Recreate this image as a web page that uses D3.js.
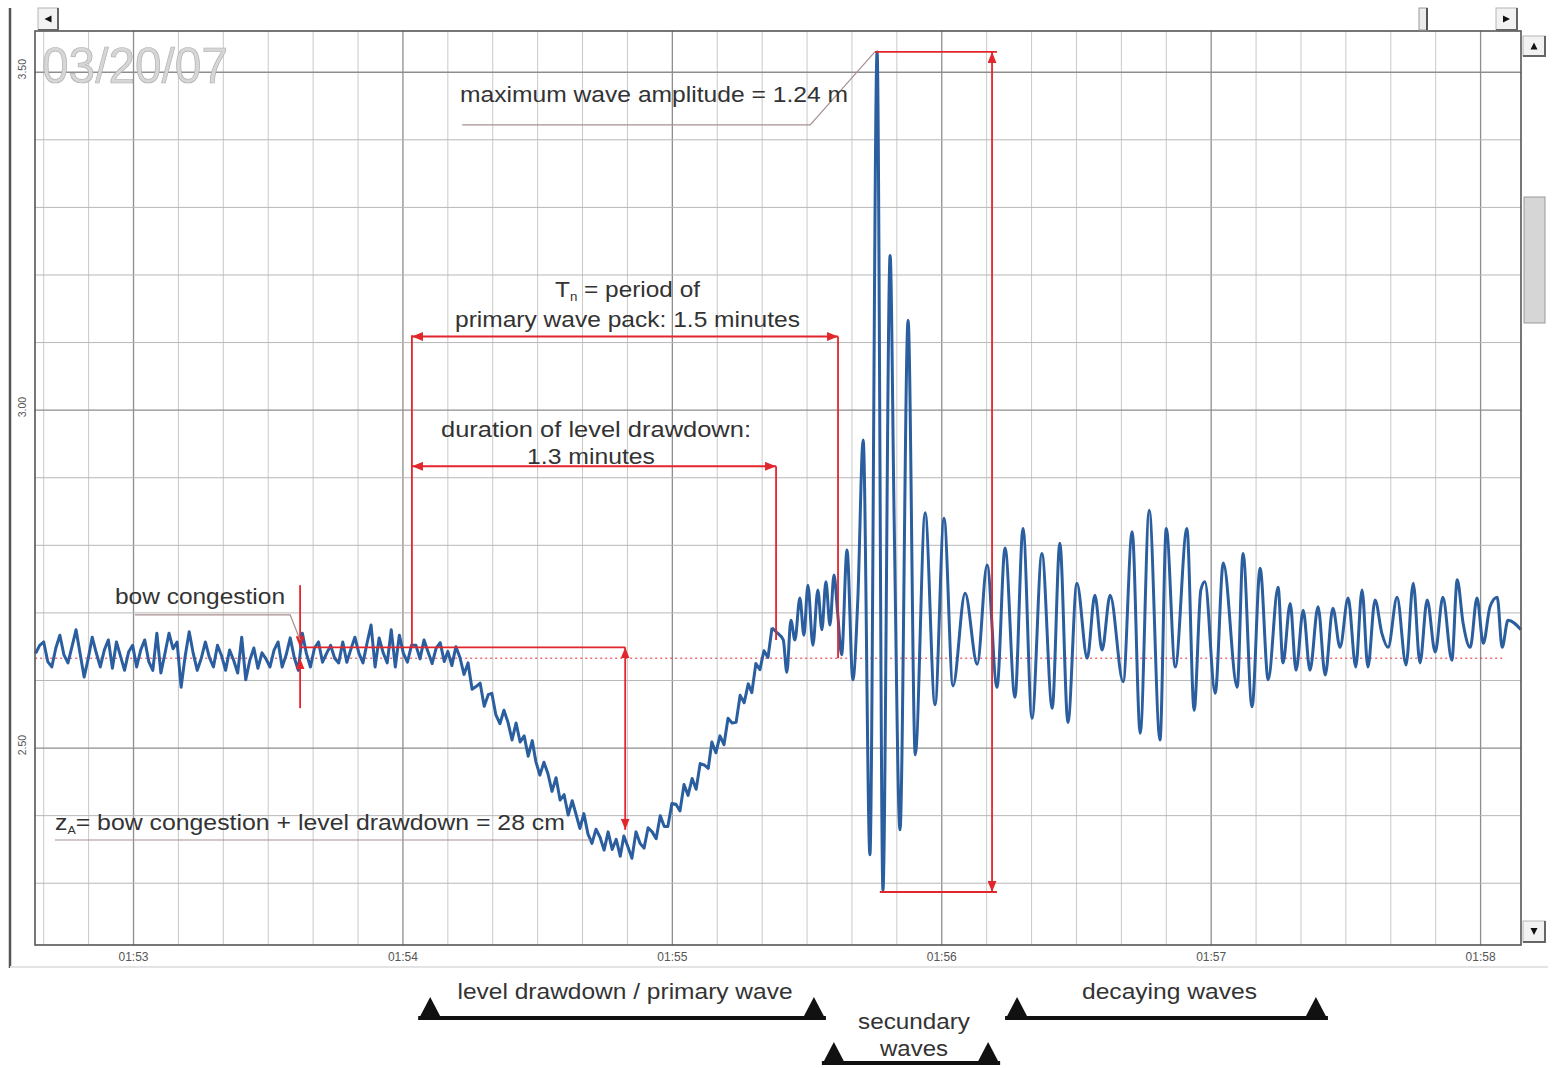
<!DOCTYPE html>
<html>
<head>
<meta charset="utf-8">
<script src="https://cdn.jsdelivr.net/npm/d3@7"></script>
<style>
  body { margin: 0; background: #fff; }
  svg { display: block; }
  text { font-family: "Liberation Sans", Arial, sans-serif; }
</style>
</head>
<body>
<svg id="chart" width="1556" height="1068"></svg>
<script>
// water level record: [seconds after 01:52:00, level in m]

// calm phase before the ship arrives
var calm = [[38.2, 2.640], [39.1, 2.652], [40.0, 2.657], [40.9, 2.628], [41.8, 2.620], [42.7, 2.648], [43.6, 2.667], [44.5, 2.638],
  [45.4, 2.626], [46.3, 2.650], [47.2, 2.675], [48.1, 2.640], [49.0, 2.605], [49.9, 2.632], [50.8, 2.664], [51.7, 2.641],
  [52.6, 2.620], [53.5, 2.645], [54.4, 2.660], [55.3, 2.618], [56.2, 2.657], [57.1, 2.636], [58.0, 2.615], [58.9, 2.642],
  [59.8, 2.652], [60.7, 2.620], [61.6, 2.645], [62.5, 2.660], [63.4, 2.628], [64.3, 2.615], [65.2, 2.670], [66.1, 2.611],
  [67.0, 2.640], [67.9, 2.670], [68.8, 2.647], [69.7, 2.657], [70.6, 2.590], [71.5, 2.636], [72.4, 2.672], [73.3, 2.640],
  [74.2, 2.615], [75.1, 2.633], [76.0, 2.657], [76.9, 2.634], [77.8, 2.620], [78.7, 2.652], [79.6, 2.637], [80.5, 2.615],
  [81.4, 2.645], [82.3, 2.630], [83.2, 2.611], [84.1, 2.664], [85.0, 2.601], [85.9, 2.630], [86.8, 2.648], [87.7, 2.618],
  [88.6, 2.641], [89.5, 2.632], [90.4, 2.620], [91.3, 2.645], [92.2, 2.657], [93.1, 2.620], [94.0, 2.638], [94.9, 2.663],
  [95.8, 2.634], [96.7, 2.615], [97.6, 2.670], [98.5, 2.640], [99.4, 2.620], [100.3, 2.648], [101.2, 2.657], [102.1, 2.627],
  [103.0, 2.640], [103.9, 2.652], [104.8, 2.633], [105.7, 2.626], [106.6, 2.657], [107.5, 2.627], [108.4, 2.646], [109.3, 2.664],
  [110.2, 2.640], [111.1, 2.626], [112.0, 2.655], [112.9, 2.682], [113.8, 2.620], [114.7, 2.663], [115.6, 2.641], [116.5, 2.626],
  [117.4, 2.675], [118.3, 2.620], [119.2, 2.667], [120.1, 2.640], [121.0, 2.627], [121.9, 2.652]];

// level drawdown / primary wave
var drawdown = [[122.9, 2.652], [123.8, 2.632], [124.7, 2.660], [125.6, 2.642], [126.5, 2.625], [127.4, 2.648], [128.3, 2.656],
  [129.2, 2.628], [130.0, 2.643], [130.9, 2.622], [131.8, 2.650], [132.7, 2.634], [133.6, 2.609], [134.5, 2.626], [135.4, 2.587],
  [136.3, 2.591], [137.2, 2.596], [138.1, 2.562], [139.0, 2.579], [139.8, 2.581], [140.7, 2.549], [141.6, 2.536], [142.5, 2.556],
  [143.4, 2.538], [144.3, 2.512], [145.2, 2.537], [146.1, 2.509], [147.0, 2.518], [147.9, 2.488], [148.8, 2.511], [149.6, 2.480],
  [150.5, 2.460], [151.4, 2.479], [152.3, 2.462], [153.2, 2.436], [154.1, 2.456], [155.0, 2.423], [155.9, 2.431], [156.8, 2.401],
  [157.7, 2.422], [158.6, 2.401], [159.4, 2.381], [160.3, 2.403], [161.2, 2.373], [162.1, 2.359], [163.0, 2.380], [163.9, 2.368],
  [164.8, 2.349], [165.7, 2.376], [166.6, 2.350], [167.5, 2.365], [168.4, 2.340], [169.2, 2.370], [170.1, 2.354], [171.0, 2.337],
  [171.9, 2.376], [172.8, 2.359], [173.7, 2.352], [174.6, 2.382], [175.5, 2.376], [176.4, 2.366], [177.3, 2.400], [178.2, 2.384],
  [179.0, 2.384], [179.9, 2.418], [180.8, 2.417], [181.7, 2.407], [182.6, 2.446], [183.5, 2.430], [184.4, 2.455], [185.3, 2.439],
  [186.2, 2.477], [187.1, 2.475], [188.0, 2.470], [188.8, 2.509], [189.7, 2.493], [190.6, 2.518], [191.5, 2.505], [192.4, 2.544],
  [193.3, 2.537], [194.2, 2.538], [195.1, 2.578], [196.0, 2.567], [196.9, 2.595], [197.7, 2.582], [198.6, 2.625], [199.5, 2.616],
  [200.4, 2.644], [201.3, 2.634], [202.2, 2.678]];

// secondary waves
var secondary = [[203.1, 2.672], [204.7, 2.660], [205.5, 2.612], [206.4, 2.689], [207.3, 2.660], [208.4, 2.722], [209.3, 2.667],
  [210.2, 2.741], [211.3, 2.652], [212.4, 2.734], [213.3, 2.675], [214.2, 2.746], [215.1, 2.682], [216.0, 2.756], [216.8, 2.701],
  [217.7, 2.638], [218.9, 2.793], [220.2, 2.601], [221.3, 2.719], [222.5, 2.956], [224.0, 2.342], [225.6, 3.530], [226.9, 2.290],
  [228.5, 3.229], [229.4, 2.837], [230.7, 2.379], [232.5, 3.133], [234.1, 2.490], [236.3, 2.848], [238.5, 2.564], [240.5, 2.840],
  [242.5, 2.592], [245.2, 2.729], [247.9, 2.624], [250.1, 2.771]];

// decaying waves
var decaying = [[252.3, 2.590], [254.1, 2.796], [256.3, 2.575], [258.1, 2.825], [260.1, 2.544], [262.3, 2.788], [264.6, 2.559],
  [266.3, 2.803], [268.1, 2.538], [270.1, 2.744], [272.4, 2.633], [274.1, 2.726], [275.7, 2.645], [277.5, 2.726], [280.4, 2.598],
  [282.4, 2.820], [284.2, 2.522], [286.2, 2.852], [288.6, 2.512], [290.0, 2.825], [292.0, 2.620], [294.6, 2.825], [296.2, 2.556],
  [297.7, 2.734], [298.6, 2.746], [300.9, 2.581], [302.7, 2.774], [305.8, 2.590], [307.1, 2.788], [309.1, 2.561], [310.9, 2.766],
  [312.7, 2.601], [314.9, 2.738], [316.0, 2.626], [317.6, 2.714], [318.9, 2.615], [320.5, 2.704], [322.0, 2.615], [323.8, 2.709],
  [325.4, 2.608], [327.1, 2.707], [328.7, 2.649], [330.5, 2.722], [332.2, 2.620], [333.6, 2.734], [334.9, 2.620], [336.5, 2.719],
  [338.0, 2.670], [339.4, 2.649], [341.4, 2.723], [343.4, 2.623], [345.0, 2.744], [346.5, 2.626], [348.1, 2.719], [349.9, 2.642],
  [351.6, 2.723], [353.6, 2.630], [354.8, 2.749], [356.1, 2.685], [357.7, 2.649], [359.2, 2.722], [360.6, 2.655], [362.1, 2.709],
  [363.7, 2.723], [364.8, 2.649], [366.1, 2.689], [369.0, 2.675]];

// axis ticks
var xTickValues = [60, 120, 180, 240, 300, 360];
var xTickLabels = ["01:53", "01:54", "01:55", "01:56", "01:57", "01:58"];
var yTickValues = [2.5, 3.0, 3.5];
var yTickLabels = ["2.50", "3.00", "3.50"];

// reference levels (m)
var restLevel = 2.633;
var congestedLevel = 2.649;

// phases shown under the chart
var phaseLabels = [["level drawdown / primary wave"], ["secundary", "waves"], ["decaying waves"]];
var phaseStart = [123.4, 213.3, 254.1];
var phaseEnd = [214.2, 253.0, 326.0];

var svg = d3.select("#chart");
var plot = { left: 35, top: 31, right: 1521, bottom: 945 };

var x = d3.scaleLinear().domain([38.06, 369.0]).range([plot.left, plot.right]);
var y = d3.scaleLinear().domain([2.2086, 3.561]).range([plot.bottom, plot.top]);

var red = "#e2262c";
var leader = "#a98f8f";

var defs = svg.append("defs");
defs.append("marker")
  .attr("id", "arr")
  .attr("viewBox", "0 0 10 8")
  .attr("refX", 10).attr("refY", 4)
  .attr("markerWidth", 11).attr("markerHeight", 9)
  .attr("markerUnits", "userSpaceOnUse")
  .attr("orient", "auto-start-reverse")
  .append("path").attr("d", "M0,0 L10,4 L0,8 Z").attr("fill", red);

// outer frame line on the left
svg.append("line").attr("x1", 10).attr("x2", 10).attr("y1", 8).attr("y2", 968)
  .attr("stroke", "#555").attr("stroke-width", 2.5);
svg.append("line").attr("x1", 10).attr("x2", 1548).attr("y1", 967).attr("y2", 967)
  .attr("stroke", "#e4e4e4").attr("stroke-width", 2);

// grid
var grid = svg.append("g");
d3.range(40, 370, 10).forEach(function (t) {
  var major = t % 60 === 0;
  grid.append("line")
    .attr("x1", x(t)).attr("x2", x(t))
    .attr("y1", plot.top).attr("y2", plot.bottom)
    .attr("stroke", major ? "#8e8e8e" : "#c9c9c9")
    .attr("stroke-width", major ? 1.3 : 1);
});
d3.range(23, 36).forEach(function (k) {
  var v = k / 10;
  var major = k % 5 === 0;
  grid.append("line")
    .attr("x1", plot.left).attr("x2", plot.right)
    .attr("y1", y(v)).attr("y2", y(v))
    .attr("stroke", major ? "#8e8e8e" : "#b7b7b7")
    .attr("stroke-width", major ? 1.3 : 1);
});

// date stamp
svg.append("text")
  .attr("x", 42).attr("y", 83)
  .attr("font-size", 50)
  .attr("textLength", 186).attr("lengthAdjust", "spacingAndGlyphs")
  .attr("fill", "#d6d6d6").attr("stroke", "#b0b0b0").attr("stroke-width", 0.7)
  .text("03/20/07");

// rest level (dotted)
svg.append("line")
  .attr("x1", x(38.1)).attr("x2", x(365.5))
  .attr("y1", y(restLevel)).attr("y2", y(restLevel))
  .attr("stroke", red).attr("stroke-width", 1).attr("stroke-dasharray", "2,3");

// series: the noisy part is drawn straight, the wave trains smoothed
var lineX = function (d) { return x(d[0]); };
var lineY = function (d) { return y(d[1]); };
var jagged = d3.line().x(lineX).y(lineY);
var smooth = d3.line().x(lineX).y(lineY).curve(d3.curveMonotoneX);
var noisyPart = calm.concat(drawdown);
var wavePart = [drawdown[drawdown.length - 1]].concat(secondary, decaying);
[[noisyPart, jagged], [wavePart, smooth]].forEach(function (p) {
  svg.append("path").datum(p[0])
    .attr("d", p[1])
    .attr("fill", "none")
    .attr("stroke", "#2a5e9f")
    .attr("stroke-width", 3)
    .attr("stroke-linejoin", "round");
});

// annotation helpers
var ann = svg.append("g");
function seg(t1, v1, t2, v2, opts) {
  opts = opts || {};
  var l = ann.append("line")
    .attr("x1", x(t1)).attr("y1", y(v1)).attr("x2", x(t2)).attr("y2", y(v2))
    .attr("stroke", red).attr("stroke-width", 1.8);
  if (opts.start) l.attr("marker-start", "url(#arr)");
  if (opts.end) l.attr("marker-end", "url(#arr)");
  return l;
}
function poly(pts) {
  ann.append("polyline")
    .attr("points", pts.map(function (p) { return x(p[0]) + "," + y(p[1]); }).join(" "))
    .attr("fill", "none").attr("stroke", leader).attr("stroke-width", 1.2);
}

// bow congestion
seg(97.1, 2.741, 97.1, congestedLevel, { end: true });
seg(97.1, 2.559, 97.1, restLevel, { end: true });
poly([[60.3, 2.697], [94.9, 2.697], [97.1, 2.660]]);
seg(97.1, congestedLevel, 169.5, congestedLevel);

// drawdown depth z_A
seg(169.5, congestedLevel, 169.5, 2.379, { start: true, end: true });
poly([[42.5, 2.364], [161.7, 2.364]]);

// period of primary wave pack / duration of drawdown
seg(122.0, congestedLevel, 122.0, 3.111);
seg(122.0, 3.109, 216.9, 3.109, { start: true, end: true });
seg(216.9, 3.109, 216.9, restLevel);
seg(122.0, 2.917, 203.1, 2.917, { start: true, end: true });
seg(203.1, 2.917, 203.1, 2.660);

// maximum wave amplitude
seg(225.1, 3.530, 252.3, 3.530);
seg(226.2, 2.287, 252.3, 2.287);
seg(251.2, 3.530, 251.2, 2.287, { start: true, end: true });
poly([[133.2, 3.422], [210.7, 3.422], [225.1, 3.530]]);

// annotation texts
function label(txt, xp, yp, len, anchor) {
  return svg.append("text")
    .attr("x", xp).attr("y", yp)
    .attr("font-size", 22)
    .attr("fill", "#333")
    .attr("text-anchor", anchor || "start")
    .attr("textLength", len).attr("lengthAdjust", "spacingAndGlyphs")
    .text(txt);
}
label("maximum wave amplitude = 1.24 m", 460, 102, 388);
var tn = svg.append("text").attr("x", 555).attr("y", 297).attr("font-size", 22).attr("fill", "#333")
  .attr("textLength", 145).attr("lengthAdjust", "spacingAndGlyphs");
tn.append("tspan").text("T");
tn.append("tspan").attr("font-size", 12).attr("dy", 4).text("n");
tn.append("tspan").attr("dy", -4).text(" = period of");
label("primary wave pack: 1.5 minutes", 455, 327, 345);
label("duration of level drawdown:", 441, 437, 310);
label("1.3 minutes", 527, 464, 128);
label("bow congestion", 115, 604, 170);
var za = svg.append("text").attr("x", 55).attr("y", 830).attr("font-size", 22).attr("fill", "#333")
  .attr("textLength", 510).attr("lengthAdjust", "spacingAndGlyphs");
za.append("tspan").text("z");
za.append("tspan").attr("font-size", 11).attr("dy", 4).text("A");
za.append("tspan").attr("dy", -4).text("= bow congestion + level drawdown = 28 cm");

// plot frame
svg.append("rect")
  .attr("x", plot.left).attr("y", plot.top)
  .attr("width", plot.right - plot.left).attr("height", plot.bottom - plot.top)
  .attr("fill", "none").attr("stroke", "#555").attr("stroke-width", 1.6);

// axis labels
svg.selectAll(".xt").data(xTickValues).enter().append("text")
  .attr("class", "xt")
  .attr("x", function (d) { return x(d); }).attr("y", 961)
  .attr("text-anchor", "middle").attr("font-size", 12).attr("fill", "#555")
  .text(function (d, i) { return xTickLabels[i]; });
svg.selectAll(".yt").data(yTickValues).enter().append("text")
  .attr("class", "yt")
  .attr("transform", function (d) { return "translate(26," + (y(d) - 3) + ") rotate(-90)"; })
  .attr("text-anchor", "middle").attr("font-size", 10.5).attr("fill", "#555")
  .text(function (d, i) { return yTickLabels[i]; });

// scrollbars
var sb = svg.append("g");
function button(bx, by, w, h, dir) {
  sb.append("rect").attr("x", bx).attr("y", by).attr("width", w).attr("height", h)
    .attr("fill", "#f2f2f2").attr("stroke", "#b5b5b5");
  sb.append("path")
    .attr("d", "M" + (bx + w) + "," + by + " V" + (by + h) + " H" + bx)
    .attr("fill", "none").attr("stroke", "#666").attr("stroke-width", 2);
  var cx = bx + w / 2, cy = by + h / 2, s = 3.5, d;
  if (dir === "l") d = "M" + (cx - s) + "," + cy + " L" + (cx + s) + "," + (cy - s) + " L" + (cx + s) + "," + (cy + s) + " Z";
  if (dir === "r") d = "M" + (cx + s) + "," + cy + " L" + (cx - s) + "," + (cy - s) + " L" + (cx - s) + "," + (cy + s) + " Z";
  if (dir === "u") d = "M" + cx + "," + (cy - s) + " L" + (cx - s) + "," + (cy + s) + " L" + (cx + s) + "," + (cy + s) + " Z";
  if (dir === "d") d = "M" + cx + "," + (cy + s) + " L" + (cx - s) + "," + (cy - s) + " L" + (cx + s) + "," + (cy - s) + " Z";
  sb.append("path").attr("d", d).attr("fill", "#111");
}
button(38, 8, 20, 22, "l");
button(1496, 8, 21, 22, "r");
button(1523, 36, 22, 20, "u");
button(1523, 921, 22, 21, "d");
sb.append("rect").attr("x", 1419).attr("y", 8).attr("width", 8).attr("height", 22)
  .attr("fill", "#ececec").attr("stroke", "#999");
sb.append("line").attr("x1", 1427).attr("x2", 1427).attr("y1", 8).attr("y2", 30).attr("stroke", "#555").attr("stroke-width", 2);
sb.append("rect").attr("x", 1524).attr("y", 197).attr("width", 21).attr("height", 126)
  .attr("fill", "#d6d6d6").attr("stroke", "#9a9a9a");

// phase brackets below the axis
var rowLine = [1018, 1063];
var rowIndex = [0, 1, 0];
var labelLen = [[335], [112, 68], [175]];
var ph = svg.append("g");
phaseLabels.forEach(function (lines, i) {
  var x0 = x(phaseStart[i]), x1 = x(phaseEnd[i]);
  var ly = rowLine[rowIndex[i]];
  ph.append("line").attr("x1", x0).attr("x2", x1).attr("y1", ly).attr("y2", ly)
    .attr("stroke", "#111").attr("stroke-width", 4);
  [x0 + 12, x1 - 12].forEach(function (cx) {
    ph.append("path")
      .attr("d", "M" + (cx - 12) + "," + (ly + 2) + " L" + cx + "," + (ly - 21) + " L" + (cx + 12) + "," + (ly + 2) + " Z")
      .attr("fill", "#111");
  });
  var cx = (x0 + x1) / 2 + 3;
  var baseY = rowIndex[i] === 0 ? 999 : 1029;
  lines.forEach(function (s, k) {
    ph.append("text").attr("x", cx).attr("y", baseY + k * 27)
      .attr("text-anchor", "middle").attr("font-size", 22).attr("fill", "#333")
      .attr("textLength", labelLen[i][k]).attr("lengthAdjust", "spacingAndGlyphs")
      .text(s);
  });
});
</script>
</body>
</html>
